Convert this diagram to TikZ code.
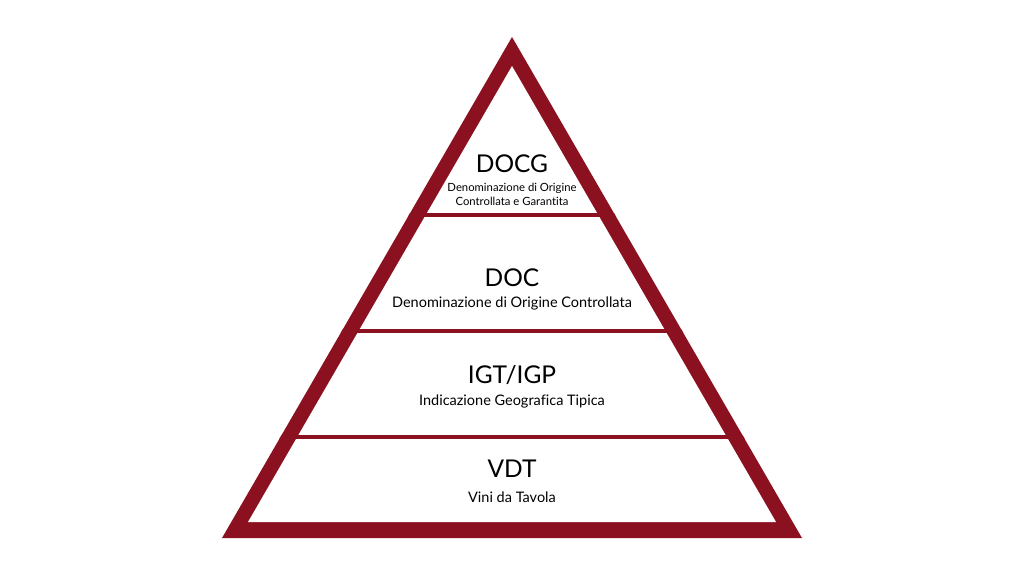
\documentclass[tikz,border=0pt]{standalone}
\usepackage{fontspec}
\setmainfont{Lato}[Ligatures=CommonOff]
\definecolor{wine}{RGB}{140,17,32}
\begin{document}
\begin{tikzpicture}[x=1pt,y=-1pt,
  title/.style={font=\fontsize{24.5}{28}\selectfont, text=black, inner sep=0pt},
  subtitle/.style={font=\fontsize{14.5}{17}\selectfont, text=black, inner sep=0pt, align=center},
  smallsub/.style={font=\fontsize{11.3}{14}\selectfont, text=black, inner sep=0pt, align=center},
  divider/.style={draw=wine, line width=4.5pt}]
\useasboundingbox[fill=white] (0,0) rectangle (1024,576);
% outer frame and white interior of the pyramid
\coordinate (oa) at (512,37);
\coordinate (ol) at (222,538);
\coordinate (or) at (802,538);
\coordinate (ia) at (512,66);
\coordinate (il) at (248,522);
\coordinate (ir) at (776,522);
\fill[wine] (oa) -- (ol) -- (or) -- cycle;
\fill[white] (ia) -- (il) -- (ir) -- cycle;
% tier dividers, clipped to the pyramid
\begin{scope}
  \clip (oa) -- (ol) -- (or) -- cycle;
  \draw[divider] (200,215) -- (824,215);
  \draw[divider] (200,331) -- (824,331);
  \draw[divider] (200,437) -- (824,437);
\end{scope}
% tier labels
\node[title] (docg) at (512,164) {DOCG};
\node[smallsub] (docgsub) at (512,194) {Denominazione di Origine\\Controllata e Garantita};
\node[title] (doc) at (512,277.5) {DOC};
\node[subtitle] (docsub) at (512,303) {Denominazione di Origine Controllata};
\node[title] (igt) at (512,375.5) {IGT/IGP};
\node[subtitle] (igtsub) at (512,401) {Indicazione Geografica Tipica};
\node[title] (vdt) at (512,469) {VDT};
\node[subtitle] (vdtsub) at (512,497) {Vini da Tavola};
\end{tikzpicture}
\end{document}
